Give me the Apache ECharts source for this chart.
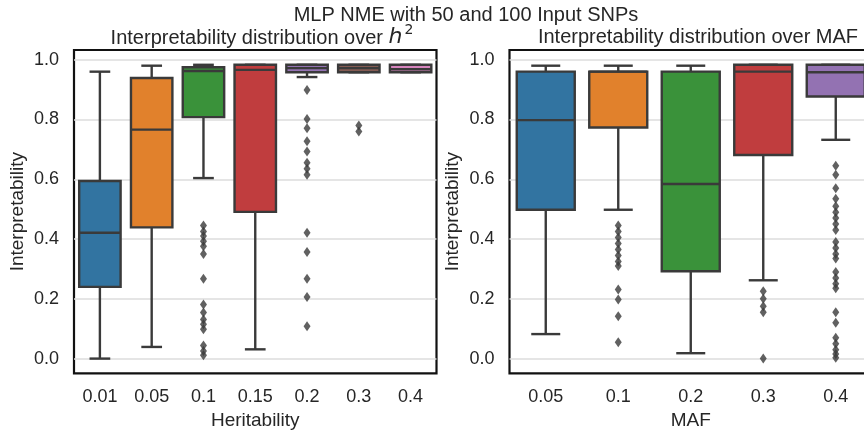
<!DOCTYPE html>
<html>
<head>
<meta charset="utf-8">
<script src="https://cdn.jsdelivr.net/npm/echarts@6/dist/echarts.min.js"></script>
<style>
  html, body { margin: 0; padding: 0; background: #ffffff; }
  #chart { width: 864px; height: 432px; }
</style>
</head>
<body>
<div id="chart"></div>
<script>
// ---- Interpretability by heritability (h^2) ----
const h2Categories = ['0.01', '0.05', '0.1', '0.15', '0.2', '0.3', '0.4'];
const h2WhiskerLow = [0.000, 0.039, 0.604, 0.031, 0.942, 0.958, 0.958];
const h2Q1         = [0.240, 0.439, 0.808, 0.491, 0.958, 0.958, 0.958];
const h2Median     = [0.421, 0.766, 0.962, 0.966, 0.972, 0.972, 0.968];
const h2Q3         = [0.594, 0.939, 0.975, 0.983, 0.983, 0.983, 0.983];
const h2WhiskerHigh= [0.960, 0.980, 0.983, 0.983, 0.983, 0.983, 0.983];
const h2Outliers = [
  [],
  [],
  [0.445, 0.425, 0.41, 0.393, 0.376, 0.35, 0.267, 0.181, 0.154, 0.131, 0.115, 0.098, 0.044, 0.025, 0.011],
  [],
  [0.899, 0.802, 0.771, 0.727, 0.693, 0.655, 0.635, 0.615, 0.421, 0.357, 0.267, 0.206, 0.108],
  [0.78, 0.76],
  []
];

// ---- Interpretability by minor allele frequency (MAF) ----
const mafCategories = ['0.05', '0.1', '0.2', '0.3', '0.4'];
const mafWhiskerLow = [0.082, 0.498, 0.018, 0.262, 0.732];
const mafQ1         = [0.498, 0.773, 0.292, 0.681, 0.877];
const mafMedian     = [0.798, 0.960, 0.584, 0.960, 0.958];
const mafQ3         = [0.960, 0.960, 0.960, 0.983, 0.983];
const mafWhiskerHigh= [0.980, 0.980, 0.980, 0.983, 0.983];
const mafOutliers = [
  [],
  [0.445, 0.425, 0.405, 0.385, 0.365, 0.345, 0.325, 0.31, 0.231, 0.198, 0.142, 0.055],
  [],
  [0.225, 0.2, 0.175, 0.155, 0.0],
  [0.645, 0.615, 0.57, 0.535, 0.51, 0.49, 0.47, 0.45, 0.43, 0.39, 0.37, 0.35, 0.335,
   0.29, 0.27, 0.25, 0.235, 0.155, 0.12, 0.07, 0.05, 0.03, 0.015, 0.003]
];

// box fill colours (muted tab10)
const boxColors = ['#3274a1', '#e1812c', '#3a923a', '#c03d3e', '#9372b2', '#845b53', '#d684bd'];
const edgeColor = '#3a3a3a';
const textColor = '#262626';
const fontFamily = '"Liberation Sans", Arial, sans-serif';

function boxRows(low, q1, med, q3, high) {
  return low.map((v, i) => [i, v, q1[i], med[i], q3[i], high[i]]);
}
function outlierPoints(lists) {
  const pts = [];
  lists.forEach((vals, i) => vals.forEach(v => pts.push([i, v])));
  return pts;
}

// seaborn-like box: whiskers with half-width caps, filled box, median line
function renderBox(params, api) {
  const i = api.value(0);
  const pLow = api.coord([i, api.value(1)]);
  const pQ1 = api.coord([i, api.value(2)]);
  const pMed = api.coord([i, api.value(3)]);
  const pQ3 = api.coord([i, api.value(4)]);
  const pHigh = api.coord([i, api.value(5)]);
  const band = api.size([1, 0])[0];
  const bw = band * 0.8;
  const cw = bw / 2;
  const x = pLow[0];
  const lw = 2.4;
  const lineStyle = { stroke: edgeColor, lineWidth: lw, fill: null };
  const children = [];
  if (pHigh[1] < pQ3[1] - 0.5) {
    children.push({ type: 'line', shape: { x1: x, y1: pQ3[1], x2: x, y2: pHigh[1] }, style: lineStyle });
  }
  children.push({ type: 'line', shape: { x1: x - cw / 2, y1: pHigh[1], x2: x + cw / 2, y2: pHigh[1] }, style: lineStyle });
  if (pLow[1] > pQ1[1] + 0.5) {
    children.push({ type: 'line', shape: { x1: x, y1: pQ1[1], x2: x, y2: pLow[1] }, style: lineStyle });
  }
  children.push({ type: 'line', shape: { x1: x - cw / 2, y1: pLow[1], x2: x + cw / 2, y2: pLow[1] }, style: lineStyle });
  children.push({
    type: 'rect',
    shape: { x: x - bw / 2, y: pQ3[1], width: bw, height: pQ1[1] - pQ3[1] },
    style: { fill: boxColors[i], stroke: edgeColor, lineWidth: lw }
  });
  children.push({ type: 'line', shape: { x1: x - bw / 2, y1: pMed[1], x2: x + bw / 2, y2: pMed[1] }, style: lineStyle });
  return { type: 'group', children };
}

function xAxisFor(gridIndex, cats, name) {
  return {
    type: 'category', gridIndex, data: cats, boundaryGap: true,
    axisLine: { show: false }, axisTick: { show: false }, splitLine: { show: false },
    axisLabel: { color: textColor, fontSize: 18, fontFamily, margin: 15 },
    name, nameLocation: 'middle', nameGap: 37,
    nameTextStyle: { color: textColor, fontSize: 19, fontFamily }
  };
}
function yAxisFor(gridIndex) {
  return {
    type: 'value', gridIndex, min: -0.0492, max: 1.0325,
    axisLine: { show: false }, axisTick: { show: false },
    axisLabel: {
      color: textColor, fontSize: 18, fontFamily, margin: 15,
      showMinLabel: false, showMaxLabel: false,
      formatter: v => v.toFixed(1)
    },
    splitLine: { show: true, showMinLine: false, showMaxLine: false, lineStyle: { color: '#dcdcdc', width: 1.5 } },
    name: 'Interpretability', nameLocation: 'middle', nameGap: 47, nameRotate: 90,
    nameTextStyle: { color: textColor, fontSize: 19, fontFamily }
  };
}

const gridBase = {
  top: 50, width: 362.5, height: 323.3, show: true,
  backgroundColor: '#ffffff', borderColor: '#111111', borderWidth: 2.2,
  containLabel: false, outerBoundsMode: 'none'
};

const chart = echarts.init(document.getElementById('chart'), null, { renderer: 'canvas' });
chart.setOption({
  backgroundColor: '#ffffff',
  animation: false,
  title: [
    {
      text: 'MLP NME with 50 and 100 Input SNPs', left: 461, top: 0, textAlign: 'center',
      textStyle: { color: textColor, fontSize: 20, fontWeight: 'normal', fontFamily }
    },
    {
      text: '{n|Interpretability distribution over }{h|h}{s|2}', left: 257, top: 18, textAlign: 'center',
      textStyle: {
        color: textColor, fontSize: 20, fontWeight: 'normal', fontFamily,
        rich: {
          n: { color: textColor, fontSize: 20, fontFamily, lineHeight: 25, verticalAlign: 'bottom' },
          h: { color: textColor, fontSize: 22, fontStyle: 'italic', fontFamily: '"DejaVu Sans", sans-serif', lineHeight: 25, verticalAlign: 'bottom' },
          s: { color: textColor, fontSize: 14, fontFamily: '"DejaVu Sans", sans-serif', verticalAlign: 'top', lineHeight: 14, padding: [0, 0, 0, 2] }
        }
      }
    },
    {
      text: 'Interpretability distribution over MAF', left: 693, top: 22, textAlign: 'center',
      textStyle: { color: textColor, fontSize: 20, fontWeight: 'normal', fontFamily }
    }
  ],
  grid: [
    Object.assign({ left: 74 }, gridBase),
    Object.assign({ left: 509.5 }, gridBase)
  ],
  xAxis: [xAxisFor(0, h2Categories, 'Heritability'), xAxisFor(1, mafCategories, 'MAF')],
  yAxis: [yAxisFor(0), yAxisFor(1)],
  series: [
    {
      type: 'custom', xAxisIndex: 0, yAxisIndex: 0, renderItem: renderBox,
      encode: { x: 0, y: [1, 2, 3, 4, 5] },
      data: boxRows(h2WhiskerLow, h2Q1, h2Median, h2Q3, h2WhiskerHigh), z: 2
    },
    {
      type: 'scatter', xAxisIndex: 0, yAxisIndex: 0, symbol: 'diamond', symbolSize: [7, 10],
      itemStyle: { color: edgeColor }, data: outlierPoints(h2Outliers), z: 3, clip: false
    },
    {
      type: 'custom', xAxisIndex: 1, yAxisIndex: 1, renderItem: renderBox,
      encode: { x: 0, y: [1, 2, 3, 4, 5] },
      data: boxRows(mafWhiskerLow, mafQ1, mafMedian, mafQ3, mafWhiskerHigh), z: 2
    },
    {
      type: 'scatter', xAxisIndex: 1, yAxisIndex: 1, symbol: 'diamond', symbolSize: [7, 10],
      itemStyle: { color: edgeColor }, data: outlierPoints(mafOutliers), z: 3, clip: false
    }
  ]
});
</script>
</body>
</html>
